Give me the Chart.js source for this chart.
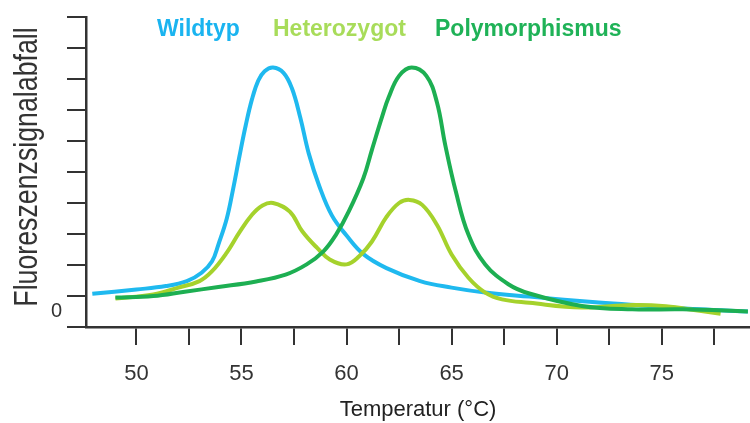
<!DOCTYPE html>
<html>
<head>
<meta charset="utf-8">
<title>Schmelzkurven</title>
<script src="https://cdn.jsdelivr.net/npm/chart.js@4.4.1/dist/chart.umd.min.js"></script>
<style>
  body { margin: 0; background: #fff; }
  #wrap { width: 750px; height: 423px; }
</style>
</head>
<body>
<div id="wrap"><canvas id="chart" width="750" height="423"></canvas></div>
<script>
// values
const wildTemp = [47.9, 50.0, 51.4, 52.4, 53.1, 53.6, 53.9, 54.3, 54.6, 54.9, 55.2, 55.5, 55.8, 56.1, 56.5, 57.0, 57.4, 57.8, 58.2, 58.7, 59.3, 60.0, 60.8, 61.9, 63.5, 65.0, 66.6, 68.7, 72.0, 74.4, 76.8, 79.1];
const wildSignal = [0.07, 0.21, 0.32, 0.48, 0.75, 1.12, 1.66, 2.5, 3.45, 4.5, 5.5, 6.35, 6.95, 7.25, 7.37, 7.2, 6.7, 5.75, 4.6, 3.55, 2.6, 1.95, 1.35, 0.9, 0.48, 0.27, 0.11, -0.02, -0.21, -0.32, -0.43, -0.5];

const hetTemp = [49.0, 50.8, 52.0, 53.0, 53.6, 54.3, 54.9, 55.5, 56.0, 56.5, 57.3, 57.9, 58.6, 59.2, 60.0, 60.6, 61.2, 61.9, 62.5, 63.0, 63.6, 64.3, 65.0, 65.8, 66.6, 67.4, 68.7, 71.2, 73.6, 75.2, 76.8, 77.8];
const hetSignal = [-0.08, 0.05, 0.27, 0.48, 0.8, 1.4, 2.05, 2.62, 2.92, 3.0, 2.72, 2.08, 1.55, 1.18, 1.02, 1.28, 1.75, 2.55, 3.0, 3.1, 2.94, 2.3, 1.34, 0.59, 0.11, -0.11, -0.22, -0.37, -0.29, -0.33, -0.48, -0.57];

const polyTemp = [49.0, 50.8, 52.3, 53.9, 55.7, 57.1, 58.1, 58.9, 59.5, 60.1, 60.8, 61.2, 61.7, 62.0, 62.5, 63.1, 63.8, 64.3, 64.7, 65.2, 65.8, 66.6, 67.7, 68.7, 71.2, 73.6, 76.0, 79.1];
const polySignal = [-0.05, 0.0, 0.14, 0.29, 0.47, 0.69, 1.02, 1.44, 1.98, 2.72, 3.8, 4.7, 5.8, 6.4, 7.1, 7.37, 7.1, 6.25, 4.86, 3.37, 1.98, 1.02, 0.38, 0.08, -0.32, -0.43, -0.43, -0.5];

const seriesLabels = ['Wildtyp', 'Heterozygot', 'Polymorphismus'];
const xTitle = 'Temperatur (°C)';
const yTitle = 'Fluoreszenzsignalabfall';

const toPoints = (xs, ys) => xs.map((x, i) => ({ x: x, y: ys[i] }));

const lineColors = ['#1fb9ef', '#a5d22c', '#1daf52'];
const textColors = ['#1ab4f0', '#a8dc5a', '#1fb257'];

// legend words sit inside the plot, coloured like their curves
const curveLegend = {
  id: 'curveLegend',
  afterDraw(chart) {
    const ctx = chart.ctx;
    const starts = [157, 273, 435];
    ctx.save();
    ctx.font = 'bold 23px "Liberation Sans", Arial, sans-serif';
    ctx.textBaseline = 'alphabetic';
    ctx.textAlign = 'left';
    chart.data.datasets.forEach((ds, i) => {
      ctx.fillStyle = textColors[i];
      ctx.fillText(ds.label, starts[i], 36);
    });
    ctx.restore();
  }
};

// narrow rotated y title
const yAxisTitle = {
  id: 'yAxisTitle',
  afterDraw(chart) {
    const ctx = chart.ctx;
    ctx.save();
    ctx.translate(37, 167);
    ctx.rotate(-Math.PI / 2);
    ctx.scale(0.81, 1);
    ctx.font = '33px "Liberation Sans", Arial, sans-serif';
    ctx.fillStyle = '#333';
    ctx.textAlign = 'center';
    ctx.textBaseline = 'alphabetic';
    ctx.fillText(yTitle, 0, 0);
    ctx.restore();
  }
};

const ctx = document.getElementById('chart').getContext('2d');
new Chart(ctx, {
  type: 'line',
  data: {
    datasets: [
      { label: seriesLabels[0], data: toPoints(wildTemp, wildSignal), borderColor: lineColors[0], order: 3 },
      { label: seriesLabels[1], data: toPoints(hetTemp, hetSignal), borderColor: lineColors[1], order: 2 },
      { label: seriesLabels[2], data: toPoints(polyTemp, polySignal), borderColor: lineColors[2], order: 1 },
    ],
  },
  options: {
    responsive: false,
    animation: false,
    layout: { padding: { top: 15, right: 0, left: 0, bottom: 0 } },
    elements: {
      line: { borderWidth: 4, tension: 0.4, fill: false },
      point: { radius: 0 },
    },
    scales: {
      x: {
        type: 'linear',
        min: 47.6,
        max: 79.2,
        afterFit: (scale) => { scale.height = 96; },
        border: { color: '#333', width: 2.5 },
        grid: { drawOnChartArea: false, drawTicks: true, tickLength: 18, color: '#333', lineWidth: 2 },
        ticks: {
          stepSize: 2.5,
          includeBounds: false,
          autoSkip: false,
          maxRotation: 0,
          padding: 16,
          color: '#333',
          font: { size: 22, family: '"Liberation Sans", Arial, sans-serif' },
          callback: (value) => (value % 5 === 0 ? value : ''),
        },
        title: {
          display: true,
          text: xTitle,
          color: '#222',
          padding: { top: 0, bottom: 0 },
          font: { size: 22, family: '"Liberation Sans", Arial, sans-serif' },
        },
      },
      y: {
        min: -1,
        max: 9,
        afterFit: (scale) => { scale.width = 86; },
        border: { color: '#333', width: 2.5 },
        grid: { drawOnChartArea: false, drawTicks: true, tickLength: 19, color: '#333', lineWidth: 2 },
        ticks: {
          stepSize: 1,
          padding: 5,
          labelOffset: 15,
          color: '#333',
          font: { size: 20, family: '"Liberation Sans", Arial, sans-serif' },
          callback: (value) => (value === 0 ? '0' : ''),
        },
      },
    },
    plugins: {
      legend: { display: false },
      tooltip: { enabled: false },
    },
  },
  plugins: [curveLegend, yAxisTitle],
});
</script>
</body>
</html>
